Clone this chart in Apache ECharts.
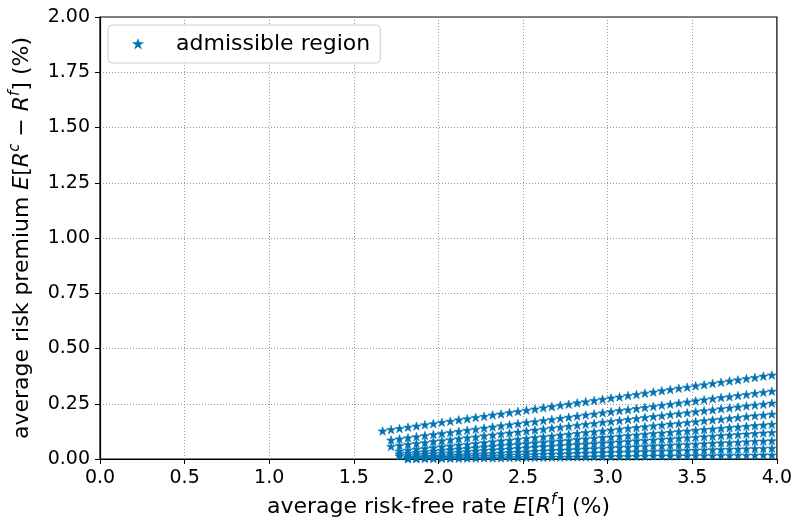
<!DOCTYPE html>
<html>
<head>
<meta charset="utf-8">
<script src="https://cdn.jsdelivr.net/npm/echarts@6/dist/echarts.min.js"></script>
<style>
  html, body { margin: 0; padding: 0; background: #ffffff; }
  #chart { width: 795px; height: 523px; }
</style>
</head>
<body>
<div id="chart"></div>
<script>
// Risk-free rate grid (%) shared by every row of the admissible region
const riskFreeGrid = [1.67,1.72,1.77,1.82,1.87,1.92,1.97,2.02,2.07,2.12,2.17,2.22,2.27,2.32,2.37,2.42,
  2.47,2.52,2.57,2.62,2.67,2.72,2.77,2.82,2.87,2.92,2.97,3.02,3.07,3.12,3.17,3.22,3.27,3.32,3.37,3.42,
  3.47,3.52,3.57,3.62,3.67,3.72,3.77,3.82,3.87,3.92,3.97];

// Risk premium (%) of each row; a row covers the last N entries of the grid
const premiumRow1 = [0.127,0.133,0.138,0.144,0.149,0.155,0.160,0.166,0.171,0.177,0.182,0.188,0.193,0.199,0.204,0.210,
  0.215,0.221,0.226,0.232,0.237,0.243,0.248,0.254,0.259,0.265,0.270,0.276,0.281,0.287,0.292,0.298,0.303,0.309,0.314,
  0.320,0.325,0.331,0.336,0.342,0.347,0.353,0.358,0.364,0.369,0.375,0.380];
const premiumRow2 = [0.086,0.091,0.096,0.101,0.106,0.111,0.115,0.120,0.125,0.130,0.135,0.140,0.145,0.150,0.155,0.160,
  0.165,0.169,0.174,0.179,0.184,0.189,0.194,0.199,0.204,0.209,0.214,0.219,0.223,0.228,0.233,0.238,0.243,0.248,0.253,
  0.258,0.263,0.268,0.273,0.278,0.282,0.287,0.292,0.297,0.302,0.307];
const premiumRow3 = [0.057,0.061,0.066,0.070,0.074,0.079,0.083,0.087,0.092,0.096,0.100,0.105,0.109,0.114,0.118,0.122,
  0.127,0.131,0.135,0.140,0.144,0.148,0.153,0.157,0.161,0.166,0.170,0.174,0.179,0.183,0.188,0.192,0.196,0.201,0.205,
  0.209,0.214,0.218,0.222,0.227,0.231,0.235,0.240,0.244,0.248,0.253];
const premiumRow4 = [0.036,0.040,0.044,0.047,0.051,0.055,0.059,0.063,0.066,0.070,0.074,0.078,0.082,0.085,0.089,0.093,
  0.097,0.101,0.104,0.108,0.112,0.116,0.120,0.123,0.127,0.131,0.135,0.139,0.142,0.146,0.150,0.154,0.158,0.161,0.165,
  0.169,0.173,0.177,0.180,0.184,0.188,0.192,0.196,0.199,0.203];
const premiumRow5 = [0.024,0.027,0.030,0.033,0.036,0.039,0.042,0.045,0.048,0.051,0.054,0.057,0.060,0.063,0.066,0.069,
  0.072,0.075,0.078,0.081,0.084,0.088,0.091,0.094,0.097,0.100,0.103,0.106,0.109,0.112,0.115,0.118,0.121,0.124,0.127,
  0.130,0.133,0.136,0.139,0.142,0.145,0.148,0.151,0.154,0.157];
const premiumRow6 = [0.014,0.016,0.019,0.021,0.024,0.026,0.028,0.031,0.033,0.036,0.038,0.041,0.043,0.045,0.048,0.050,
  0.053,0.055,0.057,0.060,0.062,0.065,0.067,0.069,0.072,0.074,0.077,0.079,0.082,0.084,0.086,0.089,0.091,0.094,0.096,
  0.098,0.101,0.103,0.106,0.108,0.111,0.113,0.115,0.118,0.120];
const premiumRow7 = [0.008,0.010,0.011,0.013,0.015,0.017,0.018,0.020,0.022,0.024,0.025,0.027,0.029,0.031,0.032,0.034,
  0.036,0.038,0.039,0.041,0.043,0.045,0.046,0.048,0.050,0.052,0.053,0.055,0.057,0.059,0.060,0.062,0.064,0.066,0.067,
  0.069,0.071,0.073,0.074,0.076,0.078,0.080,0.081,0.083];
const premiumRow8 = [0.004,0.005,0.006,0.007,0.008,0.009,0.010,0.011,0.012,0.013,0.014,0.015,0.017,0.018,0.019,0.020,
  0.021,0.022,0.023,0.024,0.025,0.026,0.027,0.028,0.029,0.030,0.031,0.032,0.033,0.034,0.035,0.036,0.037,0.038,0.039,
  0.041,0.042,0.043,0.044,0.045,0.046,0.047,0.048,0.049];
const premiumRow9 = [0.001,0.001,0.002,0.002,0.003,0.003,0.003,0.004,0.004,0.005,0.005,0.005,0.006,0.006,0.007,0.007,
  0.007,0.008,0.008,0.009,0.009,0.009,0.010,0.010,0.011,0.011,0.011,0.012,0.012,0.013,0.013,0.013,0.014,0.014,0.015,
  0.015,0.015,0.016,0.016,0.017,0.017,0.017,0.018,0.018];

const xTicks = [0, 0.5, 1, 1.5, 2, 2.5, 3, 3.5, 4];
const yTicks = [0, 0.25, 0.5, 0.75, 1, 1.25, 1.5, 1.75, 2];

const premiumRows = [premiumRow1, premiumRow2, premiumRow3, premiumRow4, premiumRow5,
                     premiumRow6, premiumRow7, premiumRow8, premiumRow9];

// Pair every premium with its risk-free rate (rows are right-aligned on the grid)
const points = [];
premiumRows.forEach(row => {
  const offset = riskFreeGrid.length - row.length;
  row.forEach((v, i) => points.push([riskFreeGrid[offset + i], v]));
});

const STAR = 'path://M100 0 L122.45 69.1 L195.1 69.1 L136.3 111.8 L158.8 180.9 L100 138.2 L41.2 180.9 L63.7 111.8 L4.9 69.1 L77.55 69.1 Z';
const BLUE = '#0173b2';
const FONT = 'DejaVu Sans';

const nameRich = {
  t: { fontSize: 22, fontFamily: FONT, color: '#000', lineHeight: 28 },
  i: { fontSize: 22, fontFamily: FONT, fontStyle: 'italic', color: '#000', lineHeight: 28 },
  s: { fontSize: 15, fontFamily: FONT, fontStyle: 'italic', color: '#000', verticalAlign: 'top', lineHeight: 15 }
};

const chart = echarts.init(document.getElementById('chart'), null, { renderer: 'canvas' });
chart.setOption({
  animation: false,
  backgroundColor: '#ffffff',
  grid: {
    left: 99, right: 17, top: 17, bottom: 64,
    show: true, borderColor: '#000', borderWidth: 1.2, backgroundColor: 'transparent'
  },
  legend: {
    left: 108, top: 25,
    padding: [8, 10, 8, 26],
    backgroundColor: 'rgba(255,255,255,0.8)',
    borderColor: '#cccccc', borderWidth: 1, borderRadius: 4,
    itemWidth: 6, itemHeight: 6,
    textStyle: { fontSize: 22, fontFamily: FONT, color: '#000', padding: [0, 0, 0, 30] },
    data: [{ name: 'admissible region', icon: STAR, itemStyle: { color: BLUE } }]
  },
  xAxis: {
    type: 'value',
    min: 0, max: 4, interval: 0.5,
    name: '{t|average risk-free rate }{i|E}{t|[}{i|R}{s|f}{t|] (%)}',
    nameLocation: 'middle', nameGap: 34,
    nameTextStyle: { rich: nameRich },
    axisLine: { show: true, lineStyle: { color: '#000', width: 1.2 } },
    axisTick: { show: true, inside: false, length: 5, lineStyle: { color: '#000', width: 1 } },
    axisLabel: {
      margin: 10, fontSize: 19, fontFamily: FONT, color: '#000',
      formatter: v => xTicks.includes(v) ? v.toFixed(1) : ''
    },
    splitLine: { show: true, lineStyle: { color: '#7f7f7f', type: [1, 2], width: 0.8 } }
  },
  yAxis: {
    type: 'value',
    min: 0, max: 2, interval: 0.25,
    name: '{t|average risk premium }{i|E}{t|[}{i|R}{s|c}{t| − }{i|R}{s|f}{t|] (%)}',
    nameLocation: 'middle', nameGap: 64, nameRotate: 90,
    nameTextStyle: { rich: nameRich },
    axisLine: { show: true, lineStyle: { color: '#000', width: 1.2 } },
    axisTick: { show: true, inside: false, length: 5, lineStyle: { color: '#000', width: 1 } },
    axisLabel: {
      margin: 10, fontSize: 19, fontFamily: FONT, color: '#000',
      formatter: v => yTicks.includes(v) ? v.toFixed(2) : ''
    },
    splitLine: { show: true, lineStyle: { color: '#7f7f7f', type: [1, 2], width: 0.8 } }
  },
  series: [{
    name: 'admissible region',
    type: 'scatter',
    symbol: STAR,
    symbolSize: 9,
    symbolKeepAspect: true,
    clip: true,
    itemStyle: { color: BLUE, borderColor: BLUE, borderWidth: 0.6, opacity: 1 },
    data: points
  }]
});
</script>
</body>
</html>
